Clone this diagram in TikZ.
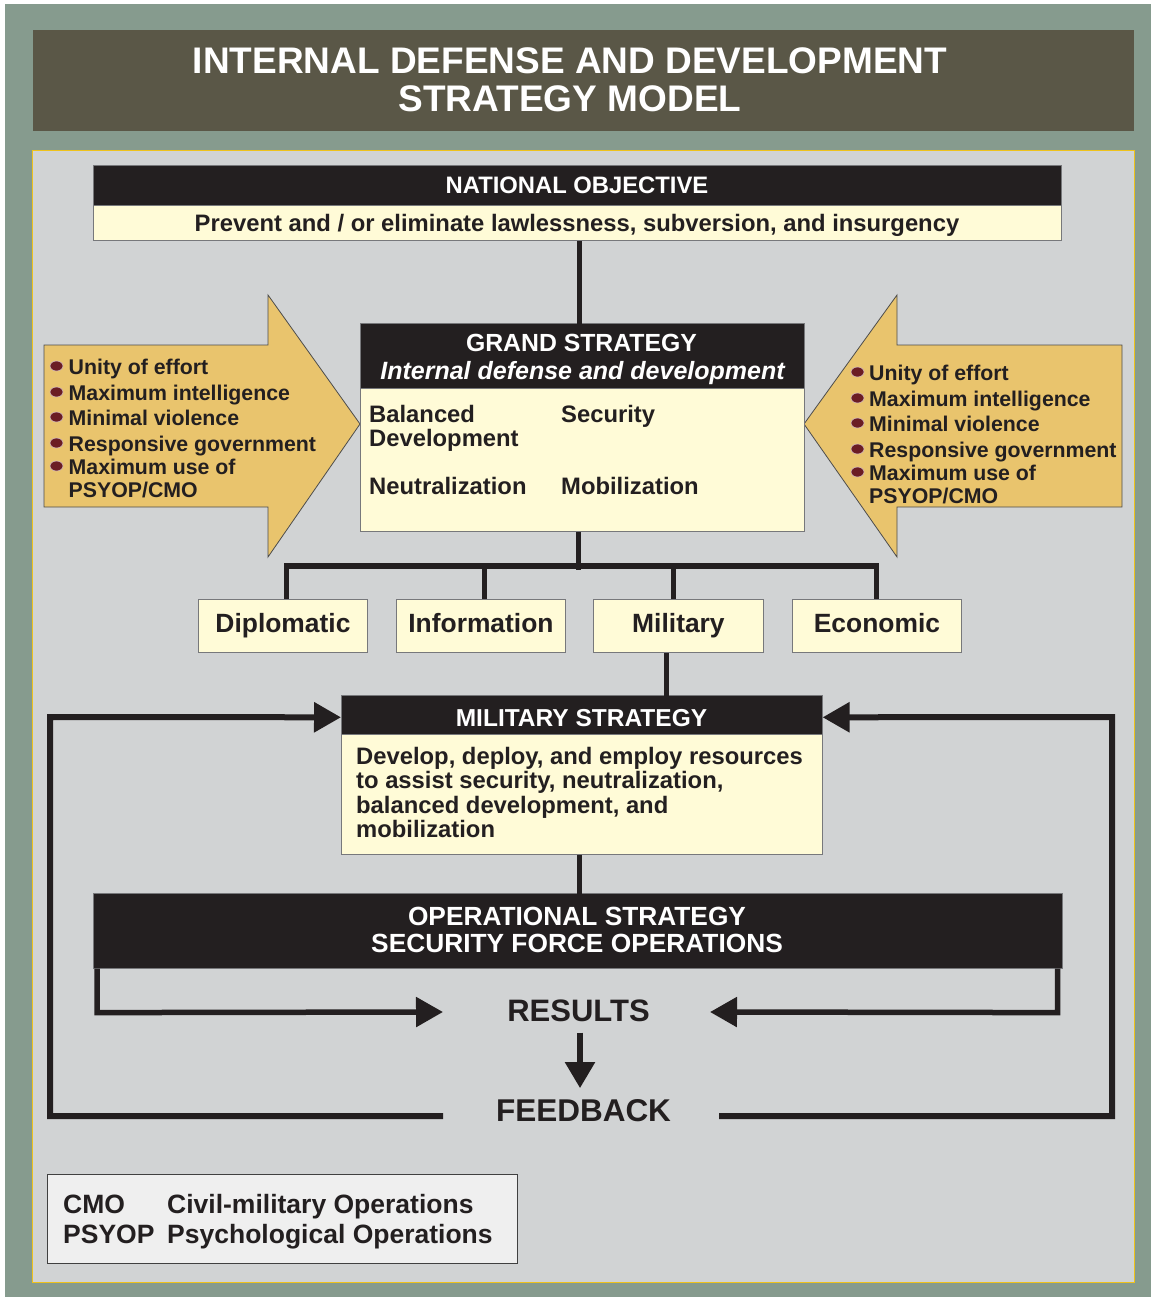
\documentclass[tikz,border=0pt]{standalone}
\usepackage{fontspec}
\setmainfont{Liberation Sans}
\usetikzlibrary{arrows.meta}
\definecolor{outerg}{HTML}{869B8E}
\definecolor{banner}{HTML}{5A5747}
\definecolor{panel}{HTML}{D1D3D4}
\definecolor{ybord}{HTML}{EEC21C}
\definecolor{cream}{HTML}{FFFBD7}
\definecolor{blk}{HTML}{231F20}
\definecolor{gold}{HTML}{E9C46D}
\definecolor{maroon}{HTML}{6B1D24}
\definecolor{legfill}{HTML}{EFEFEF}
\definecolor{boxgray}{HTML}{77787B}
\begin{document}
\begin{tikzpicture}[x=1pt,y=-1pt,
  box/.style={draw=boxgray,line width=0.9pt,fill=cream,inner sep=0pt,anchor=north west},
  headbox/.style={draw=boxgray,line width=0.6pt,fill=blk,inner sep=0pt,anchor=north west},
  lbl/.style={inner sep=0pt,anchor=base,text=blk},
  lblw/.style={inner sep=0pt,anchor=base west,text=blk},
  fa/.style={font=\fontsize{23.8}{28}\selectfont\bfseries},
  fb/.style={font=\fontsize{21.3}{25}\selectfont\bfseries},
  fc/.style={font=\fontsize{26.4}{30}\selectfont\bfseries},
  conn/.style={draw=blk,line width=5.5pt},
  loopline/.style={draw=blk,line width=6pt},
  tip/.style={-{Triangle[length=27pt,width=29pt]}},
  goldarrow/.style={fill=gold,draw=black!70,line width=0.8pt,line join=miter},
  dot/.style={fill=maroon,draw=white!70!maroon,line width=0.6pt}
]
\useasboundingbox (0,0) rectangle (1151,1297);
\fill[white] (0,0) rectangle (1151,1297);
\fill[outerg] (5,4) rectangle (1151,1297);
% title banner
\node[fill=banner,inner sep=0pt,anchor=north west,minimum width=1101pt,minimum height=101pt] (banner) at (33,30) {};
\node[lbl,text=white,font=\fontsize{37}{40}\selectfont\bfseries] (t1) at (570,73.2) {INTERNAL DEFENSE AND DEVELOPMENT};
\node[lbl,text=white,font=\fontsize{37}{40}\selectfont\bfseries] (t2) at (570,111.2) {STRATEGY MODEL};
% panel
\node[fill=panel,draw=ybord,line width=1pt,inner sep=0pt,anchor=north west,minimum width=1102pt,minimum height=1132pt] (panelbox) at (32,150) {};

% national objective
\node[headbox,minimum width=968pt,minimum height=40pt] (nohead) at (93,165) {};
\node[box,minimum width=968pt,minimum height=35pt] (nobody) at (93,205) {};
\node[lbl,fa,text=white] (notitle) at (577,193.4) {NATIONAL OBJECTIVE};
\node[lbl,fa] (notext) at (577,231.4) {Prevent and / or eliminate lawlessness, subversion, and insurgency};

% side arrows
\filldraw[goldarrow] (44,345) -- (268,345) -- (268,295) -- (360,424) -- (268,557) -- (268,507) -- (44,507) -- cycle;
\filldraw[goldarrow] (1122,345) -- (897,345) -- (897,295) -- (804,424) -- (897,557) -- (897,507) -- (1122,507) -- cycle;
% left bullets
\foreach \y/\t [count=\i] in {367/Unity of effort,393/Maximum intelligence,418/Minimal violence,444/Responsive government,467/Maximum use of}{
  \filldraw[dot] (56.5,\y-1) ellipse (6.5 and 5);
  \node[lblw,fb] (lb\i) at (68.5,\y+7.6) {\t};
}
\node[lblw,fb] (lb6) at (68.5,497.6) {PSYOP/CMO};
% right bullets
\foreach \y/\t [count=\i] in {373/Unity of effort,399/Maximum intelligence,424/Minimal violence,450/Responsive government,473/Maximum use of}{
  \filldraw[dot] (857.5,\y-1) ellipse (6.5 and 5);
  \node[lblw,fb] (rb\i) at (869,\y+7.6) {\t};
}
\node[lblw,fb] (rb6) at (869,503.6) {PSYOP/CMO};

% grand strategy
\node[headbox,minimum width=444pt,minimum height=65pt] (gshead) at (360,323) {};
\node[box,minimum width=444pt,minimum height=143pt] (gsbody) at (360,388) {};
\node[lbl,text=white,font=\fontsize{24.8}{28}\selectfont\bfseries] (gst1) at (581.5,351.9) {GRAND STRATEGY};
\node[lbl,text=white,font=\fontsize{25}{28}\selectfont\bfseries\itshape] (gst2) at (582.5,379) {Internal defense and development};
\node[lblw,fa] (bal) at (369,422.4) {Balanced};
\node[lblw,fa] (dev) at (369,446.4) {Development};
\node[lblw,fa] (sec) at (561,422.4) {Security};
\node[lblw,fa] (neu) at (369,494.4) {Neutralization};
\node[lblw,fa] (mob) at (561,494.4) {Mobilization};

% instruments
\node[box,fc,minimum width=169pt,minimum height=53pt,text height=19pt,text depth=5pt,text=blk] (dip) at (198,599) {Diplomatic};
\node[box,fc,minimum width=169pt,minimum height=53pt,text height=19pt,text depth=5pt,text=blk] (inf) at (396,599) {Information};
\node[box,fc,minimum width=170pt,minimum height=53pt,text height=19pt,text depth=5pt,text=blk] (mil) at (593,599) {Military};
\node[box,fc,minimum width=169pt,minimum height=53pt,text height=19pt,text depth=5pt,text=blk] (eco) at (792,599) {Economic};

% military strategy
\node[headbox,minimum width=481pt,minimum height=39pt] (mshead) at (341,695) {};
\node[box,minimum width=481pt,minimum height=120pt] (msbody) at (341,734) {};
\node[lbl,text=white,font=\fontsize{24.5}{28}\selectfont\bfseries] (mst) at (581.5,726.8) {MILITARY STRATEGY};
\node[lblw,fa] (ms1) at (356,764.4) {Develop, deploy, and employ resources};
\node[lblw,fa] (ms2) at (356,788.8) {to assist security, neutralization,};
\node[lblw,fa] (ms3) at (356,813.2) {balanced development, and};
\node[lblw,fa] (ms4) at (356,837.4) {mobilization};

% operational strategy
\node[headbox,minimum width=969pt,minimum height=75pt] (op) at (93,893) {};
\node[lbl,text=white,font=\fontsize{26.3}{30}\selectfont\bfseries] (op1) at (577,925.3) {OPERATIONAL STRATEGY};
\node[lbl,text=white,font=\fontsize{26.3}{30}\selectfont\bfseries] (op2) at (577,952.3) {SECURITY FORCE OPERATIONS};

% results / feedback
\node[lbl,font=\fontsize{31}{34}\selectfont\bfseries,inner sep=11pt] (res) at (578.5,1021.1) {RESULTS};
\node[lbl,font=\fontsize{31.5}{34}\selectfont\bfseries,inner sep=11pt] (feed) at (583.5,1121.3) {FEEDBACK};
\coordinate (resL) at (443,1012);
\coordinate (resR) at (710,1012);
\coordinate (fbL) at (443,1116);
\coordinate (fbR) at (719,1116);

% legend
\node[fill=legfill,draw=black!75,line width=0.9pt,inner sep=0pt,anchor=north west,minimum width=470pt,minimum height=89pt] (legend) at (47,1174) {};
\node[lblw,font=\fontsize{26.5}{30}\selectfont\bfseries] (lg1) at (63,1213.5) {CMO};
\node[lblw,font=\fontsize{26.5}{30}\selectfont\bfseries] (lg2) at (167,1213.5) {Civil-military Operations};
\node[lblw,font=\fontsize{26.5}{30}\selectfont\bfseries] (lg3) at (63,1243) {PSYOP};
\node[lblw,font=\fontsize{26.5}{30}\selectfont\bfseries] (lg4) at (167,1243) {Psychological Operations};

% connectors
\draw[conn] ([xshift=2pt]nobody.south) -- ++(0,83);
\draw[conn] ([xshift=-4pt]gsbody.south) -- ++(0,38);
\draw[conn] ([xshift=3.5pt]dip.north) -- ++(0,-33) -| ([xshift=-0.5pt]eco.north);
\draw[conn] ([xshift=3.5pt]inf.north) -- ++(0,-33);
\draw[conn] ([xshift=-5pt]mil.north) -- ++(0,-33);
\draw[conn] ([xshift=-12pt]mil.south) -- ++(0,43);
\draw[conn] ([xshift=-2.5pt]msbody.south) -- ++(0,39);
\draw[conn,tip] ([xshift=4pt]op.south west) -- ++(0,44) -- (resL);
\draw[conn,tip] ([xshift=-5pt]op.south east) -- ++(0,44) -- (resR);
\draw[conn,-{Triangle[length=26pt,width=29pt]}] ([xshift=1.5pt]res.south) -- ([xshift=-3.5pt]feed.north);
\draw[loopline,tip] (fbL) -- (50,1116) -- (50,717) -- ([yshift=-2.5pt]mshead.west);
\draw[loopline,tip] (fbR) -- (1112,1116) -- (1112,717) -- ([yshift=-2.5pt]mshead.east);
\end{tikzpicture}
\end{document}
